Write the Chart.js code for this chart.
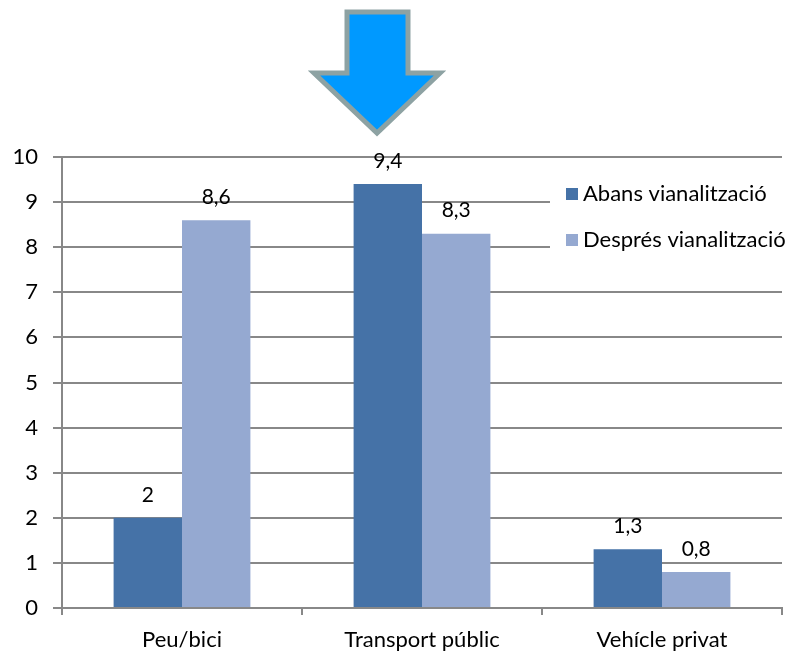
<!DOCTYPE html>
<html><head><meta charset="utf-8">
<script src="https://cdn.jsdelivr.net/npm/chart.js@4"></script>
<style>html,body{margin:0;padding:0;background:#fff}#w{width:792px;height:653px}</style>
</head><body><div id="w"><canvas id="c"></canvas></div>
<script>
const categories = ["Peu/bici", "Transport públic", "Vehícle privat"];
const abans = [2, 9.4, 1.3];
const despres = [8.6, 8.3, 0.8];
const seriesNames = ["Abans vianalització", "Després vianalització"];
const yTicks = [0,1,2,3,4,5,6,7,8,9,10];
const colors = ["#4572A7", "#95A9D1"];
const FONT = "Lato, 'Open Sans', sans-serif";

const labelsPlugin = {
  id: 'vals',
  afterDatasetsDraw(chart) {
    const ctx = chart.ctx;
    ctx.save();
    ctx.fillStyle = '#000';
    ctx.font = '21px ' + FONT;
    ctx.textAlign = 'center';
    ctx.textBaseline = 'middle';
    chart.data.datasets.forEach((ds, i) => {
      const meta = chart.getDatasetMeta(i);
      meta.data.forEach((bar, j) => {
        const txt = String(ds.data[j]).replace('.', ',');
        ctx.fillText(txt, bar.x, bar.y - 23);
      });
    });
    ctx.restore();
  }
};

const legendPlugin = {
  id: 'customLegend',
  afterDatasetsDraw(chart) {
    const ctx = chart.ctx;
    ctx.save();
    ctx.fillStyle = '#fff';
    ctx.fillRect(550, 172, 232, 88);
    ctx.font = '22px ' + FONT;
    ctx.textBaseline = 'middle';
    ctx.textAlign = 'left';
    const ys = [194, 240];
    chart.data.datasets.forEach((ds, i) => {
      ctx.fillStyle = ds.backgroundColor;
      ctx.fillRect(566, ys[i] - 6, 12, 12);
      ctx.fillStyle = '#000';
      ctx.fillText(ds.label, 583, ys[i]);
    });
    ctx.restore();
  }
};

const arrowPlugin = {
  id: 'arrow',
  afterDraw(chart) {
    const ctx = chart.ctx;
    ctx.save();
    ctx.beginPath();
    ctx.moveTo(347, 12);
    ctx.lineTo(408, 12);
    ctx.lineTo(408, 73);
    ctx.lineTo(440, 73);
    ctx.lineTo(377, 133);
    ctx.lineTo(314, 73);
    ctx.lineTo(347, 73);
    ctx.closePath();
    ctx.fillStyle = '#0099FF';
    ctx.fill();
    ctx.lineWidth = 5;
    ctx.strokeStyle = '#8DA2A3';
    ctx.lineJoin = 'miter';
    ctx.stroke();
    ctx.restore();
  }
};

new Chart(document.getElementById('c'), {
  type: 'bar',
  data: {
    labels: categories,
    datasets: [
      { label: seriesNames[0], data: abans, backgroundColor: colors[0] },
      { label: seriesNames[1], data: despres, backgroundColor: colors[1] }
    ]
  },
  options: {
    responsive: true,
    maintainAspectRatio: false,
    animation: false,
    devicePixelRatio: 1,
    layout: { padding: { top: 157, right: 10, left: 0, bottom: 0 } },
    plugins: { legend: { display: false }, tooltip: { enabled: false } },
    datasets: { bar: { categoryPercentage: 0.57, barPercentage: 1 } },
    scales: {
      x: {
        offset: true,
        grid: { offset: true, drawOnChartArea: false, drawTicks: true, tickLength: 7, color: '#888', lineWidth: 2 },
        border: { color: '#888', width: 2 },
        ticks: { color: '#000', font: { family: FONT, size: 22 }, padding: 12 },
        afterFit(s) { s.height = 45; }
      },
      y: {
        min: 0, max: 10,
        afterBuildTicks(s) { s.ticks = yTicks.map(v => ({ value: v })); },
        grid: { color: '#888', lineWidth: 2, tickLength: 9 },
        border: { color: '#888', width: 2 },
        ticks: { color: '#000', font: { family: FONT, size: 22 }, padding: 15 },
        afterFit(s) { s.width = 62; }
      }
    }
  },
  plugins: [labelsPlugin, legendPlugin, arrowPlugin]
});
</script>
</body></html>
